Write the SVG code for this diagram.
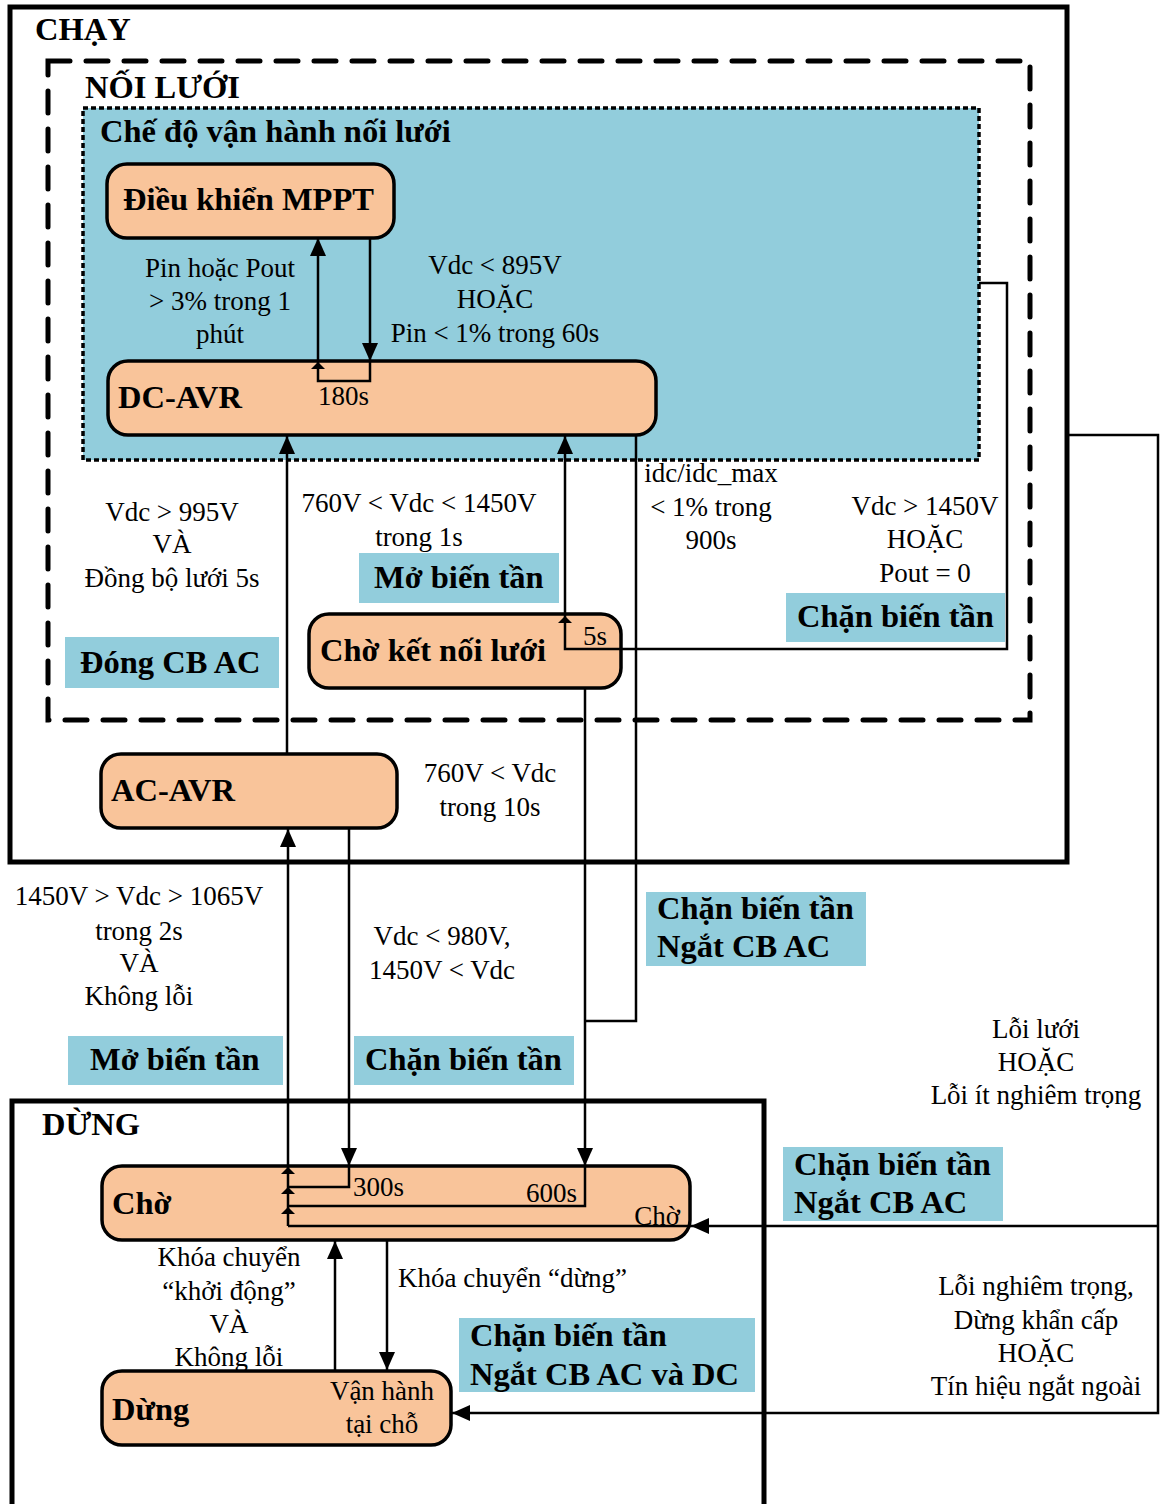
<svg xmlns="http://www.w3.org/2000/svg" width="1162" height="1504" viewBox="0 0 1162 1504">
<style>
text{font-family:"Liberation Serif","Times New Roman",serif;fill:#000}
.r{font-size:27px}
.b{font-size:32.5px;font-weight:bold}
.m{text-anchor:middle}
.node{fill:#F9C49A;stroke:#000;stroke-width:3.5}
.lab{fill:#92CDDC}
.c{fill:none;stroke:#000;stroke-width:2.5}
.ma{marker-end:url(#ah)}
.sm{fill:#000}
</style>
<defs>
<marker id="ah" markerUnits="userSpaceOnUse" markerWidth="18" markerHeight="16" viewBox="0 0 18 16" refX="18" refY="8" orient="auto">
<path d="M0,0 L18,8 L0,16 z" fill="#000"/>
</marker>
</defs>
<rect width="1162" height="1504" fill="#fff"/>

<g id="chay">
<rect x="10" y="7" width="1057" height="855" fill="none" stroke="#000" stroke-width="5"/>
<text class="b" x="35" y="40">CHẠY</text>
</g>
<g id="noiluoi">
<rect x="48" y="61" width="982" height="659" fill="none" stroke="#000" stroke-width="5" stroke-dasharray="22 16" stroke-linecap="round"/>
<text class="b" x="85" y="98">NỐI LƯỚI</text>
</g>
<g id="chedo">
<rect x="83" y="108" width="896" height="352" fill="#92CDDC" stroke="#000" stroke-width="3.5" stroke-dasharray="5 3"/>
<text class="b" x="100" y="142">Chế độ vận hành nối lưới</text>
</g>
<g id="dung-area">
<path d="M12,1506 V1101 H764 V1506" fill="none" stroke="#000" stroke-width="5"/>
<text class="b" x="42" y="1135">DỪNG</text>
</g>

<g id="mppt">
<rect class="node" x="107" y="164" width="287" height="74" rx="20"/>
<text class="b" x="123" y="210">Điều khiển MPPT</text>
</g>
<g id="dcavr">
<rect class="node" x="108" y="361" width="548" height="74" rx="20"/>
<text class="b" x="118" y="408">DC-AVR</text>
<text class="r" x="318" y="405">180s</text>
</g>
<g id="chokn">
<rect class="node" x="309" y="614" width="312" height="74" rx="20"/>
<text class="b" x="320" y="661">Chờ kết nối lưới</text>
<text class="r" x="583" y="645">5s</text>
</g>
<g id="acavr">
<rect class="node" x="101" y="754" width="296" height="74" rx="20"/>
<text class="b" x="111" y="801">AC-AVR</text>
</g>
<g id="cho">
<rect class="node" x="102" y="1166" width="588" height="74" rx="20"/>
<text class="b" x="112" y="1214">Chờ</text>
<text class="r" x="353" y="1196">300s</text>
<text class="r" x="577" y="1202" text-anchor="end">600s</text>
<text class="r" x="680" y="1225" text-anchor="end">Chờ</text>
</g>
<g id="dung">
<rect class="node" x="102" y="1371" width="349" height="74" rx="20"/>
<text class="b" x="112" y="1420">Dừng</text>
<text class="r m" x="382" y="1400">Vận hành</text>
<text class="r m" x="382" y="1433">tại chỗ</text>
</g>

<g id="labels">
<rect class="lab" x="359" y="553" width="200" height="50"/>
<text class="b" x="374" y="588">Mở biến tần</text>
<rect class="lab" x="786" y="593" width="219" height="49"/>
<text class="b" x="797" y="627">Chặn biến tần</text>
<rect class="lab" x="65" y="637" width="214" height="51"/>
<text class="b" x="80" y="673">Đóng CB AC</text>
<rect class="lab" x="646" y="892" width="220" height="74"/>
<text class="b" x="657" y="919">Chặn biến tần</text>
<text class="b" x="657" y="957">Ngắt CB AC</text>
<rect class="lab" x="68" y="1036" width="215" height="49"/>
<text class="b" x="90" y="1070">Mở biến tần</text>
<rect class="lab" x="354" y="1036" width="220" height="49"/>
<text class="b" x="365" y="1070">Chặn biến tần</text>
<rect class="lab" x="783" y="1147" width="220" height="74"/>
<text class="b" x="794" y="1175">Chặn biến tần</text>
<text class="b" x="794" y="1213">Ngắt CB AC</text>
<rect class="lab" x="459" y="1318" width="296" height="74"/>
<text class="b" x="470" y="1346">Chặn biến tần</text>
<text class="b" x="470" y="1385">Ngắt CB AC và DC</text>

<text class="r m" x="220" y="277">Pin hoặc Pout</text>
<text class="r m" x="220" y="310">&gt; 3% trong 1</text>
<text class="r m" x="220" y="343">phút</text>
<text class="r m" x="495" y="274">Vdc &lt; 895V</text>
<text class="r m" x="495" y="308">HOẶC</text>
<text class="r m" x="495" y="342">Pin &lt; 1% trong 60s</text>
<text class="r m" x="711" y="482">idc/idc_max</text>
<text class="r m" x="711" y="516">&lt; 1% trong</text>
<text class="r m" x="711" y="549">900s</text>
<text class="r m" x="925" y="515">Vdc &gt; 1450V</text>
<text class="r m" x="925" y="548">HOẶC</text>
<text class="r m" x="925" y="582">Pout = 0</text>
<text class="r m" x="172" y="521">Vdc &gt; 995V</text>
<text class="r m" x="172" y="553">VÀ</text>
<text class="r m" x="172" y="587">Đồng bộ lưới 5s</text>
<text class="r m" x="419" y="512">760V &lt; Vdc &lt; 1450V</text>
<text class="r m" x="419" y="546">trong 1s</text>
<text class="r m" x="490" y="782">760V &lt; Vdc</text>
<text class="r m" x="490" y="816">trong 10s</text>
<text class="r m" x="139" y="905">1450V &gt; Vdc &gt; 1065V</text>
<text class="r m" x="139" y="940">trong 2s</text>
<text class="r m" x="139" y="972">VÀ</text>
<text class="r m" x="139" y="1005">Không lỗi</text>
<text class="r m" x="442" y="945">Vdc &lt; 980V,</text>
<text class="r m" x="442" y="979">1450V &lt; Vdc</text>
<text class="r m" x="1036" y="1038">Lỗi lưới</text>
<text class="r m" x="1036" y="1071">HOẶC</text>
<text class="r m" x="1036" y="1104">Lỗi ít nghiêm trọng</text>
<text class="r m" x="229" y="1266">Khóa chuyển</text>
<text class="r m" x="229" y="1300">“khởi động”</text>
<text class="r m" x="229" y="1333">VÀ</text>
<text class="r m" x="229" y="1366">Không lỗi</text>
<text class="r" x="398" y="1287">Khóa chuyển “dừng”</text>
<text class="r m" x="1036" y="1295">Lỗi nghiêm trọng,</text>
<text class="r m" x="1036" y="1329">Dừng khẩn cấp</text>
<text class="r m" x="1036" y="1362">HOẶC</text>
<text class="r m" x="1036" y="1395">Tín hiệu ngắt ngoài</text>
</g>

<g id="connectors">
<path class="c ma" d="M370,238 V361"/>
<path class="c ma" d="M370,361 V381 H318 V238"/>
<polygon class="sm" points="318,362 311,369 325,369"/>
<path class="c ma" d="M979,283 H1007 V649 H565 V436"/>
<polygon class="sm" points="565,616 558,623 572,623"/>
<path class="c ma" d="M287,754 V436"/>
<path class="c" d="M636,435 V1021 H585"/>
<path class="c ma" d="M585,688 V1166"/>
<path class="c" d="M585,1166 V1206 H288"/>
<path class="c ma" d="M349,828 V1166"/>
<path class="c" d="M349,1166 V1187 H288"/>
<path class="c ma" d="M288,1226 V829"/>
<polygon class="sm" points="288,1167 281,1174 295,1174"/>
<polygon class="sm" points="288,1187 281,1194 295,1194"/>
<polygon class="sm" points="288,1207 281,1214 295,1214"/>
<path class="c ma" d="M1067,435 H1158 V1413 H452"/>
<path class="c ma" d="M1158,1226 H691"/>
<path class="c" d="M691,1226 H288"/>
<path class="c ma" d="M335,1371 V1241"/>
<path class="c ma" d="M387,1240 V1370"/>
</g>
</svg>
